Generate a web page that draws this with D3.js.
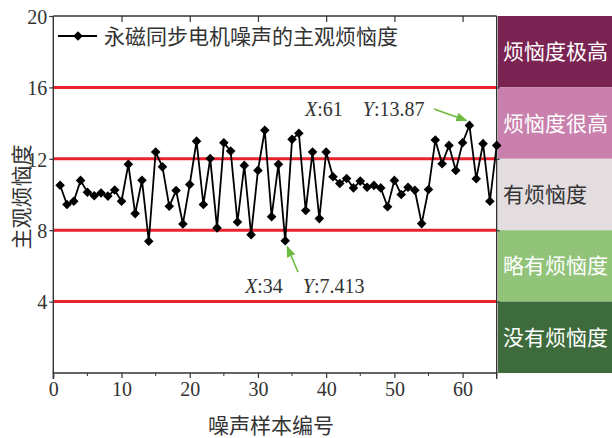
<!DOCTYPE html>
<html>
<head>
<meta charset="utf-8">
<script src="https://cdn.jsdelivr.net/npm/d3@7/dist/d3.min.js"></script>
<style>
  html, body { margin: 0; padding: 0; background: #fff; }
  svg { display: block; }
  text { font-family: "Liberation Serif", "Noto Sans CJK SC", serif; fill: #333; }
</style>
</head>
<body>
<svg id="chart" width="612" height="438"></svg>
<script>
// Sample numbers (1..65) and their subjective annoyance scores
const samples = d3.range(1, 66);
const annoyance = [
  10.52, 9.44, 9.62, 10.79, 10.13, 9.93, 10.08, 9.91, 10.25, 9.62,
  11.69, 8.93, 10.80, 7.38, 12.38, 11.55, 9.34, 10.22, 8.35, 10.56,
  12.99, 9.44, 12.02, 8.13, 12.90, 12.43, 8.46, 11.63, 7.75, 11.35,
  13.60, 8.76, 11.69, 7.413, 13.09, 13.43, 9.10, 12.38, 8.65, 12.38,
  10.99, 10.62, 10.90, 10.37, 10.75, 10.41, 10.51, 10.37, 9.31, 10.79,
  10.00, 10.41, 10.24, 8.37, 10.28, 13.05, 11.72, 12.75, 11.35, 12.90,
  13.87, 10.88, 12.85, 9.62, 12.75
];
const xTicks = [0, 10, 20, 30, 40, 50, 60];
const xMinorTicks = [5, 15, 25, 35, 45, 55, 65];
const yTicks = [4, 8, 12, 16, 20];
const yTickLabels = ["4", "8", "12", "16", "20"];
const thresholds = [4, 8, 12, 16];
const levelNames = ["烦恼度极高", "烦恼度很高", "有烦恼度", "略有烦恼度", "没有烦恼度"];
const levelBounds = [[16, 20], [12, 16], [8, 12], [4, 8], [0, 4]];
const levelColors = ["#7b2453", "#ca80ad", "#e3dde0", "#91c379", "#3d6b3b"];
const levelTextColors = ["#fff", "#fff", "#333", "#fff", "#fff"];
const seriesName = "永磁同步电机噪声的主观烦恼度";
const callouts = [{ x: 61, y: 13.87 }, { x: 34, y: 7.413 }];

const svg = d3.select("#chart");
const x = d3.scaleLinear().domain([0, 65]).range([53.3, 496.7]);
const y = d3.scaleLinear().domain([0, 20]).range([373, 16]);
const axisColor = "#333";
const cjkSize = "21px";

// Annoyance level panel on the right
const panel = svg.append("g");
levelBounds.forEach((b, i) => {
  panel.append("rect")
    .attr("x", 498).attr("width", 114)
    .attr("y", y(b[1])).attr("height", y(b[0]) - y(b[1]))
    .attr("fill", levelColors[i]);
  panel.append("text")
    .attr("x", 503).attr("y", (y(b[0]) + y(b[1])) / 2)
    .attr("dy", "0.36em")
    .style("font-size", cjkSize)
    .style("fill", levelTextColors[i])
    .text(levelNames[i]);
});

// Threshold lines
svg.append("g").selectAll("line").data(thresholds).join("line")
  .attr("x1", x(0)).attr("x2", x(65))
  .attr("y1", d => y(d)).attr("y2", d => y(d))
  .attr("stroke", "#e8232b").attr("stroke-width", 3);

// Axes
const axBottom = svg.append("g").attr("transform", `translate(0,${y(0)})`)
  .call(d3.axisBottom(x).tickValues(xTicks).tickSize(5).tickPadding(4).tickFormat(d3.format("d")));
axBottom.append("g").selectAll("line").data(xMinorTicks).join("line")
  .attr("x1", d => x(d)).attr("x2", d => x(d)).attr("y1", 0).attr("y2", 3)
  .attr("stroke", axisColor);
const axTop = svg.append("g").attr("transform", `translate(0,${y(20)})`)
  .call(d3.axisTop(x).tickValues(xTicks.slice(1)).tickSize(-6).tickFormat(""));
const axLeft = svg.append("g").attr("transform", `translate(${x(0)},0)`)
  .call(d3.axisLeft(y).tickValues(yTicks).tickSize(4).tickPadding(2)
    .tickFormat((d, i) => yTickLabels[i]));
const axRight = svg.append("g").attr("transform", `translate(${x(65)},0)`)
  .call(d3.axisRight(y).tickValues(thresholds).tickSize(3).tickFormat(""));
[axBottom, axTop, axLeft, axRight].forEach(g => {
  g.select(".domain").attr("stroke", axisColor).attr("stroke-width", 1.4);
  g.selectAll(".tick line").attr("stroke", axisColor).attr("stroke-width", 1.2);
  g.selectAll(".tick text")
    .style("font-family", "'Liberation Serif', serif")
    .style("font-size", "20px").attr("fill", "#333");
});
axBottom.select(".domain").attr("d", `M${x(0)},6V0H${x(65)}V6`);
axTop.select(".domain").attr("d", `M${x(0)},0H${x(65)}`);
axLeft.select(".domain").attr("d", `M0,${y(0)}V${y(20)}`);
axRight.select(".domain").attr("d", `M0,${y(0)}V${y(20)}`);
axLeft.selectAll(".tick text").attr("dy", "0.36em");

// Axis titles
svg.append("text")
  .attr("x", 271).attr("y", 433)
  .attr("text-anchor", "middle")
  .style("font-size", cjkSize)
  .text("噪声样本编号");
svg.append("text")
  .attr("transform", "translate(29,197) rotate(-90)")
  .attr("text-anchor", "middle")
  .style("font-size", cjkSize)
  .text("主观烦恼度");

// Data series
const points = samples.map((s, i) => ({ x: s, y: annoyance[i] }));
svg.append("path").datum(points)
  .attr("fill", "none").attr("stroke", "#000").attr("stroke-width", 1.8)
  .attr("d", d3.line().x(d => x(d.x)).y(d => y(d.y)));
const diamond = d3.symbol().type(d3.symbolSquare).size(46);
svg.append("g").selectAll("path").data(points).join("path")
  .attr("transform", d => `translate(${x(d.x)},${y(d.y)}) rotate(45)`)
  .attr("d", diamond).attr("fill", "#000");

// Legend
const legend = svg.append("g");
legend.append("line").attr("x1", 58).attr("x2", 97).attr("y1", 36).attr("y2", 36)
  .attr("stroke", "#000").attr("stroke-width", 1.8);
legend.append("path").attr("transform", "translate(78,36) rotate(45)")
  .attr("d", diamond).attr("fill", "#000");
legend.append("text").attr("x", 104).attr("y", 36).attr("dy", "0.36em")
  .style("font-size", cjkSize).text(seriesName);

// Data tips
const green = "#6dbb3f";
svg.append("defs").append("marker")
  .attr("id", "arrow").attr("viewBox", "0 0 10 10")
  .attr("refX", 9).attr("refY", 5)
  .attr("markerWidth", 7).attr("markerHeight", 7)
  .attr("orient", "auto")
  .append("path").attr("d", "M0,1L10,5L0,9Z").attr("fill", green);

function tip(g, p, tx, ty, arrow) {
  const t = g.append("text").attr("x", tx).attr("y", ty).style("font-size", "20px");
  t.append("tspan").style("font-style", "italic").text("X");
  t.append("tspan").text(":" + p.x + "\u2003");
  t.append("tspan").style("font-style", "italic").text("Y");
  t.append("tspan").text(":" + p.y);
  g.append("line")
    .attr("x1", arrow[0]).attr("y1", arrow[1])
    .attr("x2", x(p.x) + arrow[2]).attr("y2", y(p.y) + arrow[3])
    .attr("stroke", green).attr("stroke-width", 1.6)
    .attr("marker-end", "url(#arrow)");
}
const tips = svg.append("g");
tip(tips, callouts[0], 305, 116, [434, 109, -3, -5]);
tip(tips, callouts[1], 245, 293, [298, 272, 2, 6]);
</script>
</body>
</html>
